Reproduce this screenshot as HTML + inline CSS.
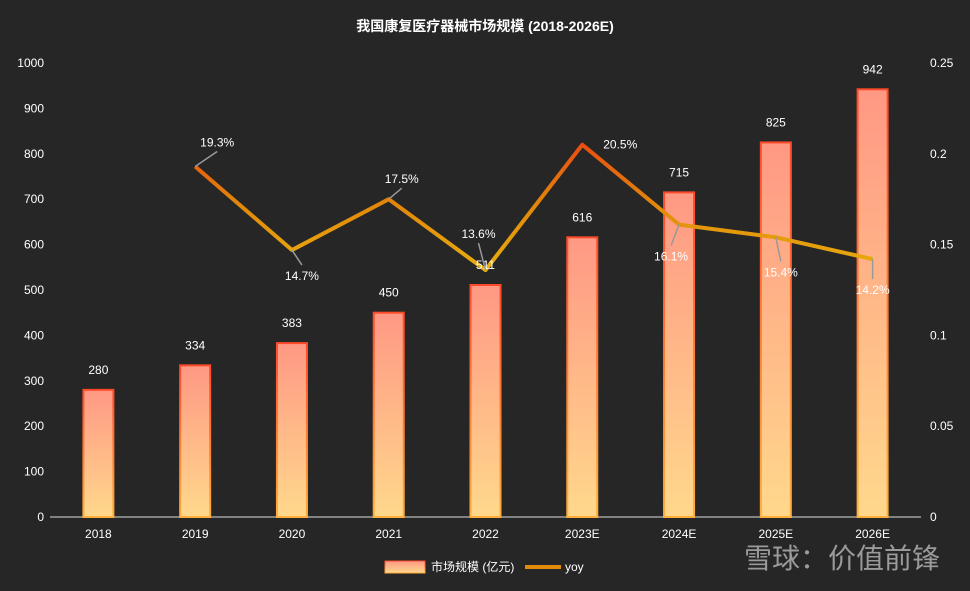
<!DOCTYPE html>
<html><head><meta charset="utf-8"><style>
html,body{margin:0;padding:0;background:#262626;}
svg{display:block;font-family:"Liberation Sans","Noto Sans CJK SC",sans-serif;}
</style></head><body>
<svg id="chart" width="970" height="591" viewBox="0 0 970 591">
<defs>
<linearGradient id="barFill" x1="0" y1="0" x2="0" y2="1"><stop offset="0" stop-color="#ff9884"/><stop offset="1" stop-color="#ffd88c"/></linearGradient>
<linearGradient id="barStroke" x1="0" y1="0" x2="0" y2="1"><stop offset="0" stop-color="#ff4a2a"/><stop offset="1" stop-color="#ffae3a"/></linearGradient>
<linearGradient id="lineGrad" gradientUnits="userSpaceOnUse" x1="0" y1="140" x2="0" y2="275"><stop offset="0" stop-color="#e84a12"/><stop offset="0.5" stop-color="#e28a0a"/><stop offset="1" stop-color="#e8b010"/></linearGradient>
</defs>
<rect x="0" y="0" width="970" height="591" fill="#262626"/>
<text x="485" y="31" text-anchor="middle" fill="#fff" font-size="14" font-weight="bold">我国康复医疗器械市场规模 (2018-2026E)</text>
<g id="axes"></g><g id="bars"></g><g id="line"></g><g id="labels"></g>
<g>
<rect x="385" y="561" width="40" height="12" fill="url(#barFill)" stroke="url(#barStroke)"/>
<text x="431" y="571" fill="#fff" font-size="12">市场规模 (亿元)</text>
<line x1="525" y1="567" x2="561" y2="567" stroke="#e28a0a" stroke-width="4"/>
<text x="565" y="571" fill="#fff" font-size="12">yoy</text>
</g>
<text x="940" y="568" text-anchor="end" fill="#9a9a9a" font-size="28">雪球：价值前锋</text>
</svg>
<script>
const categories=["2018","2019","2020","2021","2022","2023E","2024E","2025E","2026E"];
const sizes=[280,334,383,450,511,616,715,825,942];
const yoy=[null,0.193,0.147,0.175,0.136,0.205,0.161,0.154,0.142];
const yoyLabels=["","19.3%","14.7%","17.5%","13.6%","20.5%","16.1%","15.4%","14.2%"];
const leftTicks=[0,100,200,300,400,500,600,700,800,900,1000];
const rightTicks=[0,0.05,0.1,0.15,0.2,0.25];
const labelOffsets=[[0,0],[22,-24],[10,26],[13,-20],[-7,-36],[38,0],[-8,32],[5,35],[0,31]];
const NS="http://www.w3.org/2000/svg";
const plotL=50,plotR=921,y0=517,yTop=63;
const band=(plotR-plotL)/categories.length;
const xs=i=>plotL+band*(i+0.5);
const yL=v=>y0-(v/1000)*(y0-yTop);
const yR=v=>y0-(v/0.25)*(y0-yTop);
function mk(tag,attrs,parent,txt){const e=document.createElementNS(NS,tag);for(const k in attrs)e.setAttribute(k,attrs[k]);if(txt!==undefined)e.textContent=txt;parent.appendChild(e);return e;}
const axes=document.getElementById('axes');
const bl=mk('line',{x1:plotL,x2:plotR,y1:y0,y2:y0,stroke:"#ddd","stroke-width":1},axes);


leftTicks.forEach(t=>{const e=mk('text',{x:44,y:yL(t)+4,"text-anchor":"end",fill:"#fff","font-size":12},axes,String(t));

});
rightTicks.forEach(t=>{const e=mk('text',{x:930,y:yR(t)+4,"text-anchor":"start",fill:"#fff","font-size":12},axes,String(t));

});
categories.forEach((c,i)=>{const e=mk('text',{x:xs(i),y:538,"text-anchor":"middle",fill:"#fff","font-size":12},axes,c);

});
const bars=document.getElementById('bars'),labels=document.getElementById('labels');
sizes.forEach((v,i)=>{const w=30;
const r=mk('rect',{x:xs(i)-w/2,y:yL(v),width:w,height:y0-yL(v),fill:"url(#barFill)",stroke:"url(#barStroke)","stroke-width":2},bars);


const t=mk('text',{x:xs(i),y:yL(v)-16,"text-anchor":"middle",fill:"#fff","font-size":12},labels,String(v));

});
const lg=document.getElementById('line');
let pts=[];yoy.forEach((v,i)=>{if(v!==null)pts.push([xs(i),yR(v),i]);});
const pl=mk('polyline',{points:pts.map(p=>p[0]+","+p[1]).join(" "),fill:"none",stroke:"url(#lineGrad)","stroke-width":4,"stroke-linejoin":"round"},lg);


pts.forEach(([x,y,i])=>{const [dx,dy]=labelOffsets[i];
const lx=x+dx,ly=y+dy;
if(dx<30){const ey=dy<0?ly+9:ly-11;
const ln=mk('line',{x1:x,y1:y,x2:lx,y2:ey,stroke:"#999","stroke-width":1.5},labels);

}
const t=mk('text',{x:lx,y:ly+4,"text-anchor":"middle",fill:"#fff","font-size":12},labels,yoyLabels[i]);

});
</script>
</body></html>
